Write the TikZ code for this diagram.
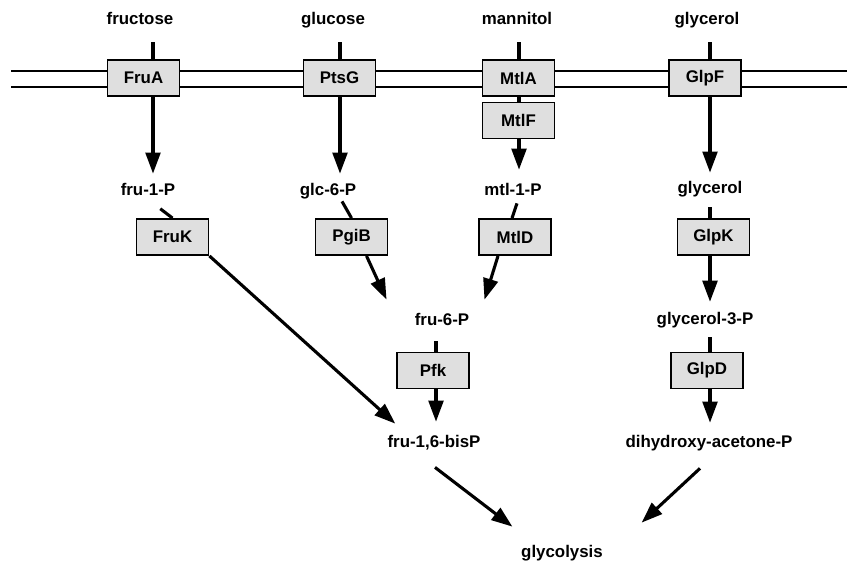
\documentclass[tikz,border=0pt]{standalone}
\usepackage{fontspec}
\setmainfont{Liberation Sans}
\usetikzlibrary{arrows.meta,calc}
\newcommand{\labfont}{\fontsize{12}{14}\selectfont\bfseries}
\tikzset{
  enzyme/.style={draw,line width=1.3pt,fill=gray!25,minimum width=1.8cm,minimum height=0.9cm,inner sep=0pt,font=\labfont},
  metab/.style={inner sep=0pt,text height=9pt,text depth=2.5pt,font=\labfont},
  flow/.style={line width=2.2pt,-{Triangle[length=15pt,width=10.5pt]}},
  link/.style={line width=2.2pt},
  membrane/.style={line width=1.1pt}
}
\begin{document}
\begin{tikzpicture}[x=0.025cm,y=-0.025cm]
  \useasboundingbox (0,0) rectangle (847,560);

    % -- x positions of the vertical connectors
    \coordinate (colFru) at (153,0);
    \coordinate (colGlc) at (340,0);
    \coordinate (colMtl) at (519,0);
    \coordinate (colGly) at (710,0);
    \coordinate (colPfk) at (436,0);

    % -- the membrane (two lines, drawn before the boxes)
    \draw[membrane] (11,71) -- (847,71);
    \draw[membrane] (11,87) -- (847,87);

    % -- sugars outside the cell
    \node[metab] (fructose) at (140,20) {fructose};
    \node[metab] (glucose)  at (333,20) {glucose};
    \node[metab] (mannitol) at (517,20) {mannitol};
    \node[metab] (glyOut)   at (707,20) {glycerol};

    % -- transporters in the membrane
    \node[enzyme] (fruA) at (143.5,78) {FruA};
    \node[enzyme] (ptsG) at (339.5,78) {PtsG};
    \node[enzyme] (mtlA) at (518.5,78) {MtlA};
    \node[enzyme] (glpF) at (705,78)   {GlpF};
    \node[enzyme] (mtlF) at (518.5,120.5) {MtlF};

    % -- intermediates
    \node[metab] (fru1P)   at (148,191) {fru-1-P};
    \node[metab] (glc6P)   at (328,191) {glc-6-P};
    \node[metab] (mtl1P)   at (513,191) {mtl-1-P};
    \node[metab] (glyIn)   at (710,189) {glycerol};
    \node[metab] (fru6P)   at (442,321) {fru-6-P};
    \node[metab] (gly3P)   at (705,320) {glycerol-3-P};
    \node[metab] (fruBisP) at (434,443) {fru-1,6-bisP};
    \node[metab] (dhap)    at (709,443) {dihydroxy-acetone-P};
    \node[metab] (glycolysis) at (562,553) {glycolysis};

    % -- enzymes in the cytoplasm
    \node[enzyme] (fruK) at (172.5,237) {FruK};
    \node[enzyme] (pgiB) at (351.5,237) {PgiB};
    \node[enzyme] (mtlD) at (515,237)   {MtlD};
    \node[enzyme] (glpK) at (713.5,237) {GlpK};
    \node[enzyme] (pfk)  at (433,370.5) {Pfk};
    \node[enzyme] (glpD) at (707,370.5) {GlpD};

    % -- uptake through the membrane
    \draw[link,shorten <=10pt] (fructose.south -| colFru) -- (fruA.north -| colFru);
    \draw[link,shorten <=10pt] (glucose.south -| colGlc) -- (ptsG.north -| colGlc);
    \draw[link,shorten <=10pt] (mannitol.south -| colMtl) -- (mtlA.north -| colMtl);
    \draw[link,shorten <=10pt] (glyOut.south -| colGly) -- (glpF.north -| colGly);
    \draw[link] (mtlA.south -| colMtl) -- (mtlF.north -| colMtl);

    \draw[flow,shorten >=6.4pt] (fruA.south -| colFru) -- (fru1P.north -| colFru);
    \draw[flow,shorten >=6.4pt] (ptsG.south -| colGlc) -- (glc6P.north -| colGlc);
    \draw[flow,shorten >=9.2pt] (mtlF.south -| colMtl) -- (mtl1P.north -| colMtl);
    \draw[flow,shorten >=5.7pt] (glpF.south -| colGly) -- (glyIn.north -| colGly);

    % -- phosphorylated sugars to their enzymes
    \draw[link,shorten <=11pt] (fru1P.south) -- (fruK.north);
    \draw[link] ($(glc6P.south)+(14,2)$) -- (pgiB.north);
    \draw[link] ($(mtl1P.south)+(4,4)$) -- ($(mtlD.north)+(-3,0)$);
    \draw[link,shorten <=7pt] (glyIn.south -| colGly) -- (glpK.north -| colGly);

    % -- on to glycolysis
    \draw[flow] (fruK.south east) -- ($(fruBisP.north west)+(8,-11)$);
    \draw[flow] ($(pgiB.south)+(15,0)$) -- ($(fru6P.north west)+(-28,-13)$);
    \draw[flow] ($(mtlD.south)+(-17,0)$) -- ($(fru6P.north east)+(15,-13)$);
    \draw[flow,shorten >=7pt] (glpK.south -| colGly) -- (gly3P.north -| colGly);

    \draw[link,shorten <=8.5pt] (fru6P.south -| colPfk) -- (pfk.north -| colPfk);
    \draw[link,shorten <=6.4pt] (gly3P.south -| colGly) -- (glpD.north -| colGly);
    \draw[flow,shorten >=9.2pt] (pfk.south -| colPfk) -- (fruBisP.north -| colPfk);
    \draw[flow,shorten >=8.5pt] (glpD.south -| colGly) -- (dhap.north -| colGly);

    \draw[flow] ($(fruBisP.south)+(1,16)$) -- ($(glycolysis.north west)+(-8.5,-18)$);
    \draw[flow] ($(dhap.south)+(-9,17)$) -- ($(glycolysis.north east)+(38.5,-22)$);

\end{tikzpicture}
\end{document}
